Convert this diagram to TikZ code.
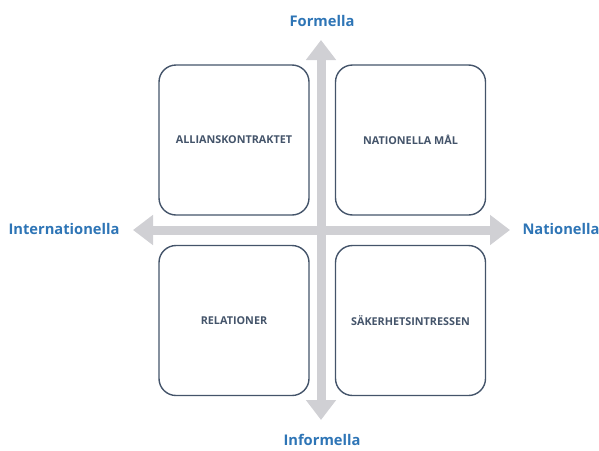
\documentclass[tikz,border=0pt]{standalone}
\usepackage{fontspec}
\setmainfont{Open Sans}
\usetikzlibrary{arrows.meta}
\definecolor{axisgray}{RGB}{208,208,212}
\definecolor{boxline}{RGB}{68,84,106}
\definecolor{labelblue}{RGB}{46,117,182}
\tikzset{
    quad/.style={draw=boxline, line width=1.4pt, rounded corners=17pt, minimum size=150pt, inner sep=0,
        font=\bfseries\fontsize{10.8}{13}\selectfont, text=boxline},
    axis/.style={draw=axisgray, line width=9pt, -{Triangle[length=20pt,width=29pt]}},
    pole/.style={font=\bfseries\fontsize{14.7}{18}\selectfont, text=labelblue}
}

\begin{document}
\begin{tikzpicture}[x=1pt,y=-1pt]
    \useasboundingbox (0,0) rectangle (599,450);
    % axes
    \coordinate (c) at (321,230);
    \coordinate (n) at (321,40);
    \coordinate (s) at (321,420);
    \coordinate (w) at (133,230);
    \coordinate (e) at (510,230);
    \draw[axis] (c) -- (n);
    \draw[axis] (c) -- (s);
    \draw[axis] (c) -- (w);
    \draw[axis] (c) -- (e);
    % quadrants
    \node[quad] (allians) at (234,140) {ALLIANSKONTRAKTET};
    \node[quad] (mal) at (410.5,140) {NATIONELLA MÅL};
    \node[quad] (rel) at (234,320.5) {RELATIONER};
    \node[quad] (sak) at (410.5,320.5) {SÄKERHETSINTRESSEN};
    % poles
    \node[pole] (formella) at (322,21) {Formella};
    \node[pole] (informella) at (322,440) {Informella};
    \node[pole] (internationella) at (64,229) {Internationella};
    \node[pole] (nationella) at (561,229) {Nationella};
\end{tikzpicture}
\end{document}
